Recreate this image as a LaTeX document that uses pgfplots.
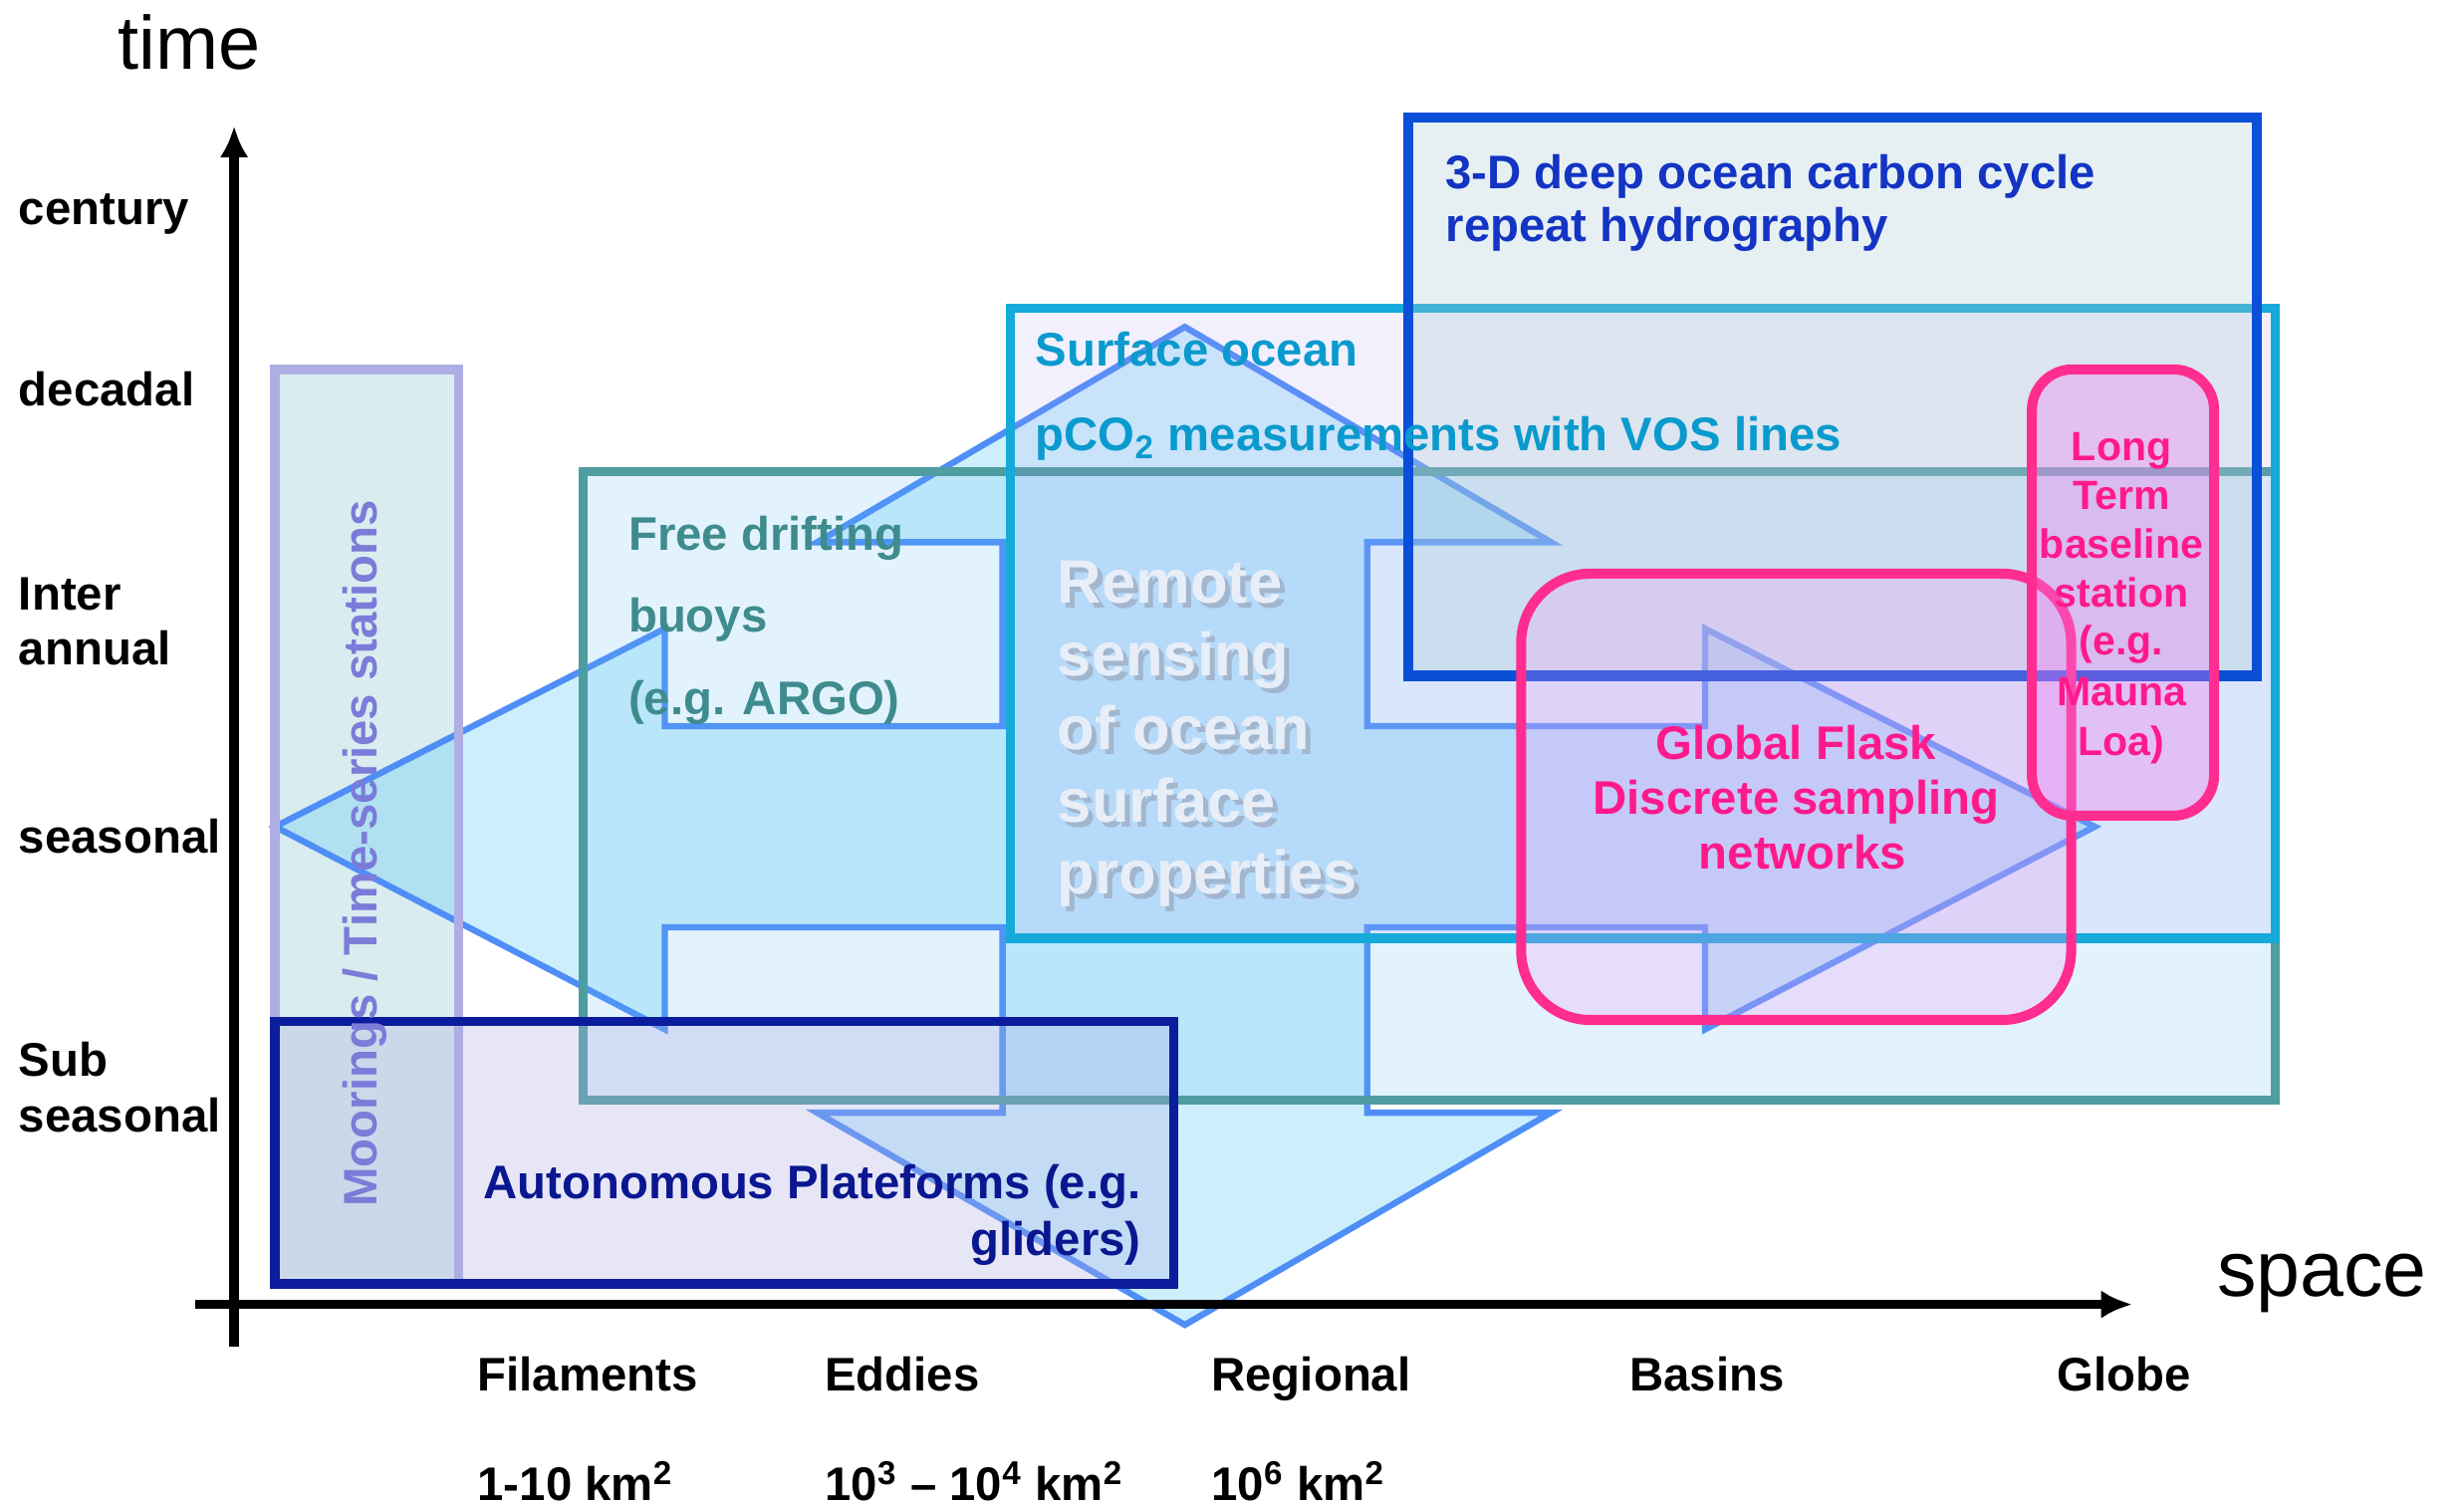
\documentclass[border=0pt]{standalone}
\usepackage{fontspec}
\setmainfont{Liberation Sans}
\usepackage{pgfplots}
\pgfplotsset{compat=1.18}
\usetikzlibrary{arrows.meta}

% palette
\definecolor{arrowfill}{HTML}{4CC6F4}
\definecolor{arrowline}{HTML}{4F8EF7}
\definecolor{moorfill}{HTML}{D9ECEF}
\definecolor{moorline}{HTML}{AEAEE4}
\definecolor{moortext}{HTML}{7B7BD9}
\definecolor{tealfill}{HTML}{55B9F3}
\definecolor{tealline}{HTML}{4E9DA0}
\definecolor{tealtext}{HTML}{3F8C8F}
\definecolor{surffill}{HTML}{A89BF2}
\definecolor{surfline}{HTML}{16AADB}
\definecolor{surftext}{HTML}{0A9ACD}
\definecolor{deepfill}{HTML}{ACCDD4}
\definecolor{deepline}{HTML}{0B4ED8}
\definecolor{deeptext}{HTML}{1434C4}
\definecolor{autofill}{HTML}{ACACE1}
\definecolor{autoline}{HTML}{0B1D9C}
\definecolor{autotext}{HTML}{0A1790}
\definecolor{pinkline}{HTML}{FF2D8F}
\definecolor{pinktext}{HTML}{FF1A8C}
\definecolor{flaskfill}{HTML}{F297F5}
\definecolor{longfill}{HTML}{F17BEE}
\definecolor{remotetext}{HTML}{E8EEF8}
\definecolor{remoteshadow}{HTML}{A2B6CE}

\newcommand{\lbl}{\fontsize{15}{18}\selectfont\bfseries}
\newcommand{\lng}{\fontsize{13}{15}\selectfont\bfseries}
\newcommand{\rmt}{\fontsize{19.5}{22}\selectfont\bfseries}
% embossed caption: soft shadow set behind the light text in one box
\newcommand{\emboss}[1]{\rlap{\raisebox{-1.6pt}{\hspace{1.6pt}\color{remoteshadow}#1}}\color{remotetext}#1}

\tikzset{
  every node/.append style={inner sep=0pt, outer sep=0pt},
  rtext/.style={anchor=base west, font=\rmt},
}

\begin{document}
\begin{tikzpicture}
\begin{axis}[
  x=0.5pt, y=0.5pt, y dir=reverse,
  xmin=0, xmax=1568, ymin=0, ymax=960,
  hide axis, clip=false,
]
\path (rel axis cs:0,0) rectangle (rel axis cs:1,1);

% moorings / time-series column (fill)
\addplot[draw=none, fill=moorfill] coordinates
  {(175,235) (292,235) (292,817) (175,817)} --cycle;

% four-way arrow
\addplot[draw=arrowline, line width=2pt, fill=arrowfill, fill opacity=0.28] coordinates {
  (175,526) (423,400) (423,462) (638,462) (638,345) (520,345) (754,208)
  (987,345) (870,345) (870,462) (1085,462) (1085,400) (1333,526)
  (1085,655) (1085,590) (870,590) (870,708) (987,708) (754,843)
  (520,708) (638,708) (638,590) (423,590) (423,655)} --cycle;

% moorings border
\addplot[draw=moorline, line width=3pt] coordinates
  {(175,235) (292,235) (292,817) (175,817)} --cycle;

% free drifting buoys
\addplot[draw=tealline, line width=3pt, fill=tealfill, fill opacity=0.17] coordinates
  {(371,300) (1448,300) (1448,700) (371,700)} --cycle;

% surface ocean pCO2
\addplot[draw=surfline, line width=3pt, fill=surffill, fill opacity=0.15] coordinates
  {(643,196) (1448,196) (1448,597) (643,597)} --cycle;

% deep ocean repeat hydrography
\addplot[draw=deepline, line width=3.2pt, fill=deepfill, fill opacity=0.3] coordinates
  {(896,75) (1436,75) (1436,430) (896,430)} --cycle;

% autonomous platforms
\addplot[draw=autoline, line width=3pt, fill=autofill, fill opacity=0.3] coordinates
  {(175,650) (747,650) (747,817) (175,817)} --cycle;

% global flask network
\addplot[draw=pinkline, line width=3.2pt, fill=flaskfill, fill opacity=0.25, rounded corners=22pt] coordinates
  {(1143,365) (1318,365) (1318,649) (968,649) (968,365)} --cycle;

% long term baseline station
\addplot[draw=pinkline, line width=3.2pt, fill=longfill, fill opacity=0.35, rounded corners=13pt] coordinates
  {(1351,235) (1409,235) (1409,519) (1293,519) (1293,235)} --cycle;

% axes
\addplot[black, line width=3.2pt, -{Latex[length=10pt, width=9pt]}] coordinates {(149,857) (149,80)};
\addplot[black, line width=3pt, -{Latex[length=10pt, width=9pt]}] coordinates {(124,830) (1357,830)};

% axis titles
\node[anchor=base west, font=\fontsize{24}{28}\selectfont] at (axis cs:75,44) {time};
\node[anchor=base west, font=\fontsize{25}{28}\selectfont] at (axis cs:1411,825) {space};

% time scale labels
\node[anchor=base west, font=\lbl] at (axis cs:12,143) {century};
\node[anchor=base west, font=\lbl] at (axis cs:12,258) {decadal};
\node[anchor=base west, font=\lbl] at (axis cs:12,388) {Inter};
\node[anchor=base west, font=\lbl] at (axis cs:12,423) {annual};
\node[anchor=base west, font=\lbl] at (axis cs:12,543) {seasonal};
\node[anchor=base west, font=\lbl] at (axis cs:12,685) {Sub};
\node[anchor=base west, font=\lbl] at (axis cs:12,720) {seasonal};

% space scale labels
\node[anchor=base west, font=\lbl] at (axis cs:304,885) {Filaments};
\node[anchor=base west, font=\lbl] at (axis cs:525,885) {Eddies};
\node[anchor=base west, font=\lbl] at (axis cs:771,885) {Regional};
\node[anchor=base west, font=\lbl] at (axis cs:1037,885) {Basins};
\node[anchor=base west, font=\lbl] at (axis cs:1309,885) {Globe};
\node[anchor=base west, font=\lbl] at (axis cs:304,955) {1-10 km\textsuperscript{2}};
\node[anchor=base west, font=\lbl] at (axis cs:525,955) {10\textsuperscript{3} – 10\textsuperscript{4} km\textsuperscript{2}};
\node[anchor=base west, font=\lbl] at (axis cs:771,955) {10\textsuperscript{6} km\textsuperscript{2}};

% box captions
\node[anchor=base west, font=\lbl, text=deeptext] at (axis cs:920,120) {3-D deep ocean carbon cycle};
\node[anchor=base west, font=\lbl, text=deeptext] at (axis cs:920,154) {repeat hydrography};

\node[anchor=base west, font=\lbl, text=surftext] at (axis cs:659,233) {Surface ocean};
\node[anchor=base west, font=\lbl, text=surftext] at (axis cs:659,287) {pCO\textsubscript{2} measurements with VOS lines};

\node[anchor=base west, font=\lbl, text=tealtext] at (axis cs:400,350) {Free drifting};
\node[anchor=base west, font=\lbl, text=tealtext] at (axis cs:400,402) {buoys};
\node[anchor=base west, font=\lbl, text=tealtext] at (axis cs:400,455) {(e.g. ARGO)};

% remote sensing caption
\node[rtext] at (axis cs:673,384) {\emboss{Remote}};
\node[rtext] at (axis cs:673,430) {\emboss{sensing}};
\node[rtext] at (axis cs:673,477) {\emboss{of ocean}};
\node[rtext] at (axis cs:673,523) {\emboss{surface}};
\node[rtext] at (axis cs:673,569) {\emboss{properties}};

\node[anchor=base, font=\lbl, text=pinktext] at (axis cs:1143,483) {Global Flask};
\node[anchor=base, font=\lbl, text=pinktext] at (axis cs:1143,518) {Discrete sampling};
\node[anchor=base, font=\lbl, text=pinktext] at (axis cs:1147,553) {networks};

\node[anchor=base, font=\lng, text=pinktext] at (axis cs:1350,293) {Long};
\node[anchor=base, font=\lng, text=pinktext] at (axis cs:1350,324) {Term};
\node[anchor=base, font=\lng, text=pinktext] at (axis cs:1350,355) {baseline};
\node[anchor=base, font=\lng, text=pinktext] at (axis cs:1350,386) {station};
\node[anchor=base, font=\lng, text=pinktext] at (axis cs:1350,417) {(e.g.};
\node[anchor=base, font=\lng, text=pinktext] at (axis cs:1350,449) {Mauna};
\node[anchor=base, font=\lng, text=pinktext] at (axis cs:1350,481) {Loa)};

\node[anchor=base east, font=\lbl, text=autotext] at (axis cs:726,763) {Autonomous Plateforms (e.g.};
\node[anchor=base east, font=\lbl, text=autotext] at (axis cs:726,799) {gliders)};

\node[anchor=base, rotate=90, font=\lbl, text=moortext] at (axis cs:240,543) {Moorings / Time-series stations};

\end{axis}
\end{tikzpicture}
\end{document}
